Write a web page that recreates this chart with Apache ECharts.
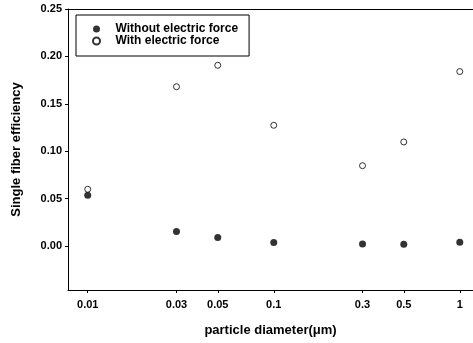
<!DOCTYPE html>
<html>
<head>
<meta charset="utf-8">
<script src="https://cdn.jsdelivr.net/npm/echarts@6/dist/echarts.min.js"></script>
<style>
  html, body { margin: 0; padding: 0; background: #fff; }
  #chart { width: 473px; height: 343px; }
</style>
</head>
<body>
<div id="chart"></div>
<script>
// particle diameters (um)
const diameters = [0.01, 0.03, 0.05, 0.1, 0.3, 0.5, 1];
const withoutForce = [0.0535, 0.0151, 0.0088, 0.0035, 0.0021, 0.0018, 0.0039];
const withForce = [0.0598, 0.168, 0.1906, 0.1273, 0.0847, 0.1097, 0.184];
const xTicks = [0.01, 0.03, 0.05, 0.1, 0.3, 0.5, 1];
const yTicks = [0, 0.05, 0.1, 0.15, 0.2, 0.25];

const chart = echarts.init(document.getElementById('chart'));

const toPoints = (vals) => diameters.map((d, i) => [Math.log10(d), vals[i]]);
const font = 'Liberation Sans, Arial, sans-serif';
const xMin = -2.106, xMax = 0.071;

const option = {
  animation: false,
  grid: { left: 68, right: 0, top: 9, bottom: 53 },
  legend: {
    orient: 'vertical',
    left: 76, top: 15,
    padding: [8, 11, 9, 16],
    itemGap: 0,
    itemWidth: 28, itemHeight: 7,
    borderColor: '#000', borderWidth: 1,
    backgroundColor: '#fff',
    textStyle: { fontFamily: font, fontSize: 12, fontWeight: 'bold', color: '#000', lineHeight: 11 },
    data: ['Without electric force', 'With electric force']
  },
  xAxis: [{
    type: 'value',
    min: xMin, max: xMax,
    name: 'particle diameter(\u03bcm)',
    nameLocation: 'middle',
    nameGap: 34,
    nameTextStyle: { fontFamily: font, fontSize: 13, fontWeight: 'bold', color: '#000' },
    axisLine: { onZero: false, lineStyle: { color: '#000', width: 1 } },
    axisTick: { show: true, inside: false, length: 3, customValues: xTicks.map(Math.log10), lineStyle: { color: '#000' } },
    axisLabel: {
      customValues: xTicks.map(Math.log10),
      margin: 9,
      fontFamily: font, fontSize: 11, fontWeight: 'bold', color: '#000',
      formatter: (v) => {
        const t = xTicks.find(x => Math.abs(Math.log10(x) - v) < 1e-6);
        return t === undefined ? '' : String(t);
      }
    },
    splitLine: { show: false }
  }, {
    type: 'value',
    position: 'top',
    min: xMin, max: xMax,
    axisLine: { onZero: false, lineStyle: { color: '#000', width: 1 } },
    axisTick: { show: false },
    axisLabel: { show: false },
    splitLine: { show: false }
  }],
  yAxis: {
    type: 'value',
    min: -0.0465, max: 0.25,
    name: 'Single fiber efficiency',
    nameLocation: 'middle',
    nameGap: 45,
    nameTextStyle: { fontFamily: font, fontSize: 13, fontWeight: 'bold', color: '#000' },
    axisLine: { show: true, onZero: false, lineStyle: { color: '#000', width: 1 } },
    axisTick: { show: true, inside: false, length: 3, customValues: yTicks, lineStyle: { color: '#000' } },
    axisLabel: {
      customValues: yTicks,
      margin: 6,
      fontFamily: font, fontSize: 11, fontWeight: 'bold', color: '#000',
      formatter: (v) => v.toFixed(2)
    },
    splitLine: { show: false }
  },
  series: [
    {
      name: 'Without electric force',
      type: 'scatter',
      symbol: 'circle',
      symbolSize: 7,
      itemStyle: { color: '#000' },
      data: toPoints(withoutForce)
    },
    {
      name: 'With electric force',
      type: 'scatter',
      symbol: 'circle',
      symbolSize: 6,
      itemStyle: { color: '#fff', borderColor: '#000', borderWidth: 1 },
      data: toPoints(withForce)
    }
  ]
};

chart.setOption(option);
</script>
</body>
</html>
